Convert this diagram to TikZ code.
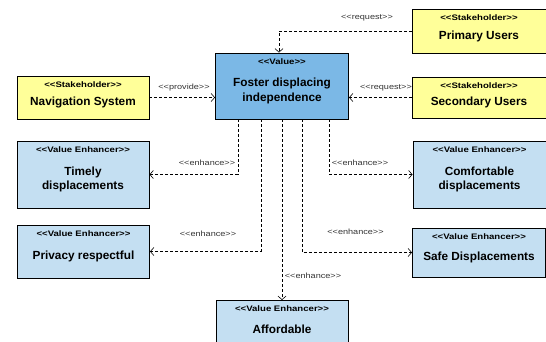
\documentclass[tikz,border=0pt]{standalone}
\usepackage{fontspec}
\setmainfont{Liberation Sans}
\newfontfamily\widesans{Liberation Sans}[FakeStretch=1.2]
\usetikzlibrary{arrows.meta}

\definecolor{valuefill}{HTML}{7BB8E6}
\definecolor{enhfill}{HTML}{C4DFF2}
\definecolor{stakefill}{HTML}{FFFF99}
\definecolor{labelgray}{HTML}{333333}

% UML stereotype brackets, kept as separate < and > characters
\newcommand\stereotext[1]{<{}<#1>{}>}

\tikzset{
  umlbox/.style={draw=black, line width=0.9pt, inner sep=0pt, minimum width=#1},
  valuebox/.style={umlbox=133pt, fill=valuefill},
  enhbox/.style={umlbox=132pt, fill=enhfill},
  stakebox/.style={umlbox=134pt, fill=stakefill},
  stereo/.style={font=\widesans\fontsize{8}{9}\selectfont\bfseries, inner sep=0pt},
  nmtext/.style={font=\fontsize{11.8}{14.5}\selectfont\bfseries, align=center, inner sep=0pt},
  rel/.style={densely dashed, line width=0.6pt, -{Straight Barb[length=3.5pt,width=8pt,line width=0.6pt]}},
  rlabel/.style={font=\widesans\fontsize{7.6}{9}\selectfont, text=labelgray, inner sep=0pt}
}

\begin{document}
\begin{tikzpicture}[x=1pt,y=-1pt]
\useasboundingbox (0,0) rectangle (546,341);
\clip (0,0) rectangle (546,341);

% boxes
\node[valuebox, minimum height=66pt] (v) at (282,86) {};
\node[stereo] (v-st) at ([yshift=-9pt]v.north) {\stereotext{Value}};
\node[nmtext] (v-nm) at ([yshift=-5pt]v.center) {Foster displacing\\independence};

\node[stakebox, minimum height=44pt] (pu) at (479,31) {};
\node[stereo] (pu-st) at ([yshift=-9pt]pu.north) {\stereotext{Stakeholder}};
\node[nmtext] (pu-nm) at ([yshift=-5pt]pu.center) {Primary Users};

\node[stakebox, minimum height=41pt] (su) at (479,97.5) {};
\node[stereo] (su-st) at ([yshift=-9pt]su.north) {\stereotext{Stakeholder}};
\node[nmtext] (su-nm) at ([yshift=-5pt]su.center) {Secondary Users};

\node[stakebox, minimum width=132pt, minimum height=43pt] (ns) at (83,97.5) {};
\node[stereo] (ns-st) at ([yshift=-9pt]ns.north) {\stereotext{Stakeholder}};
\node[nmtext] (ns-nm) at ([yshift=-5pt]ns.center) {Navigation System};

\node[enhbox, minimum height=67pt] (td) at (83,174.5) {};
\node[stereo] (td-st) at ([yshift=-9pt]td.north) {\stereotext{Value Enhancer}};
\node[nmtext] (td-nm) at ([yshift=-5pt]td.center) {Timely\\displacements};

\node[enhbox, minimum width=133pt, minimum height=67pt] (cd) at (479.5,174.5) {};
\node[stereo] (cd-st) at ([yshift=-9pt]cd.north) {\stereotext{Value Enhancer}};
\node[nmtext] (cd-nm) at ([yshift=-5pt]cd.center) {Comfortable\\displacements};

\node[enhbox, minimum height=53pt] (pr) at (83.5,251.5) {};
\node[stereo] (pr-st) at ([yshift=-9pt]pr.north) {\stereotext{Value Enhancer}};
\node[nmtext] (pr-nm) at ([yshift=-5pt]pr.center) {Privacy respectful};

\node[enhbox, minimum width=133pt, minimum height=49pt] (sd) at (479,252.5) {};
\node[stereo] (sd-st) at ([yshift=-9pt]sd.north) {\stereotext{Value Enhancer}};
\node[nmtext] (sd-nm) at ([yshift=-5pt]sd.center) {Safe Displacements};

\node[enhbox, minimum height=50pt, anchor=north] (af) at (282,300) {};
\node[stereo] (af-st) at ([yshift=-9pt]af.north) {\stereotext{Value Enhancer}};
\node[nmtext] (af-nm) at ([yshift=-29.5pt]af.north) {Affordable};

% connectors
\draw[rel] (pu.west) -| ([xshift=-3pt]v.north);
\draw[rel] (su.west) -- (su.west -| v.east);
\draw[rel] (ns.east) -- (ns.east -| v.west);
\draw[rel] ([xshift=-44pt]v.south) |- (td.east);
\draw[rel] ([xshift=47pt]v.south) |- (cd.west);
\draw[rel] ([xshift=-21pt]v.south) |- (pr.east);
\draw[rel] ([xshift=20pt]v.south) |- (sd.west);
\draw[rel] (v.south) -- (af.north);

% connector labels
\node[rlabel] (l-pu) at (367,18) {\stereotext{request}};
\node[rlabel] (l-su) at (386,88) {\stereotext{request}};
\node[rlabel] (l-ns) at (184,88) {\stereotext{provide}};
\node[rlabel] (l-td) at (207,163) {\stereotext{enhance}};
\node[rlabel] (l-cd) at (360,163) {\stereotext{enhance}};
\node[rlabel] (l-pr) at (208,234) {\stereotext{enhance}};
\node[rlabel] (l-sd) at (355.5,232) {\stereotext{enhance}};
\node[rlabel] (l-af) at (313,276) {\stereotext{enhance}};
\end{tikzpicture}
\end{document}
